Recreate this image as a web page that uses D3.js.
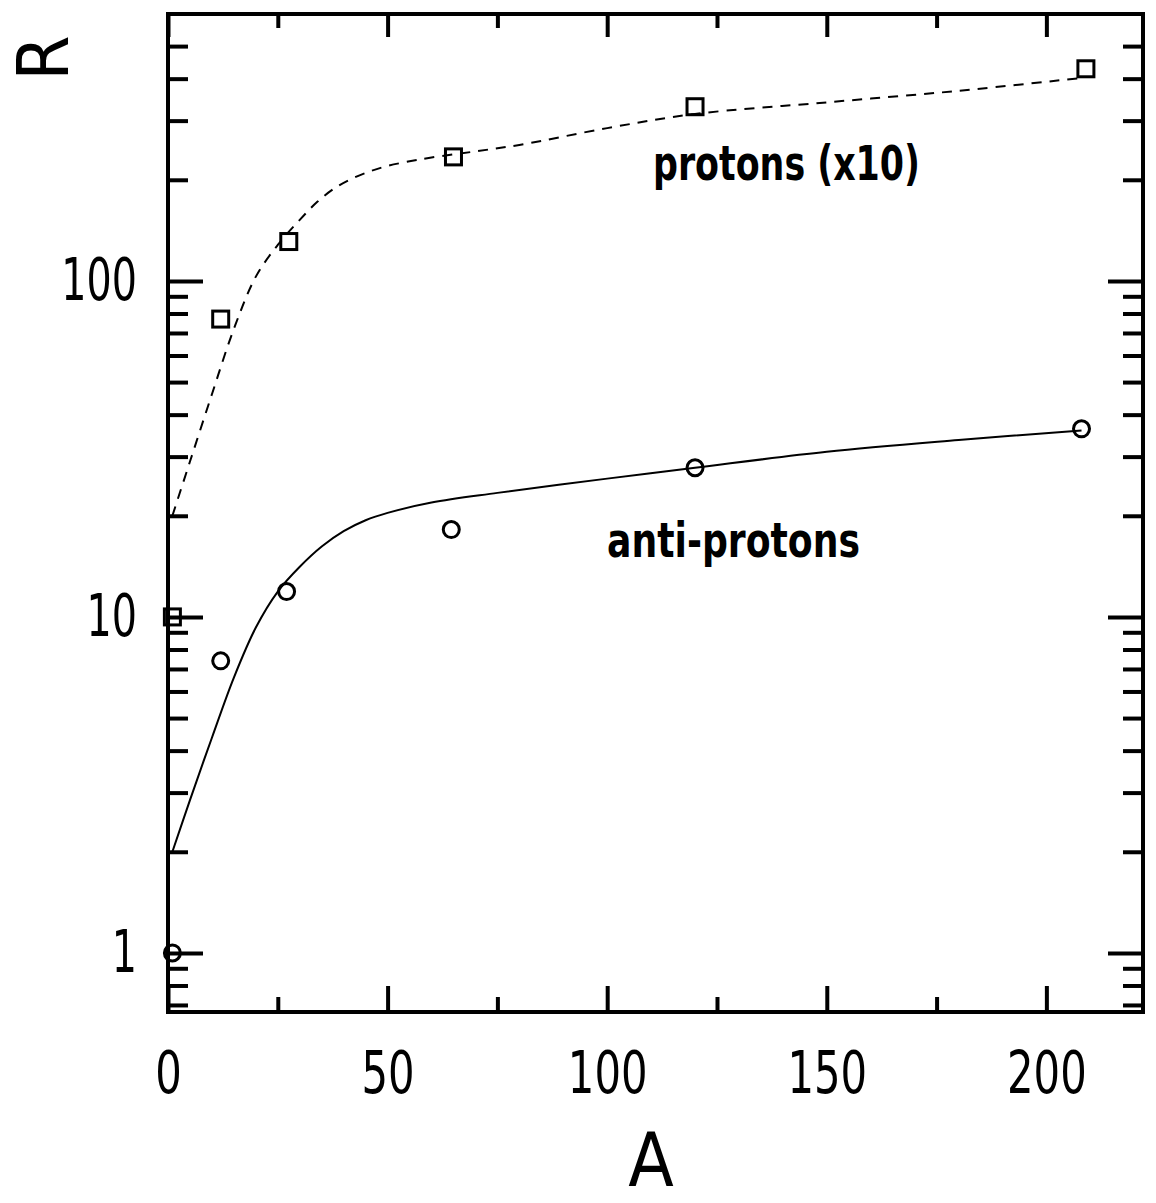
<!DOCTYPE html>
<html lang="en">
  <head>
    <meta charset="utf-8">
    <title>R vs A</title>
    <script src="https://d3js.org/d3.v7.min.js"></script>
    <style>
      body { margin: 0; background: #fff; }
      svg text { font-family: "DejaVu Sans Condensed", "DejaVu Sans", sans-serif; fill: #000; }
      .axis path.domain { display: none; }
      .axis line { stroke: #000; stroke-width: 4; }
      .ylab text { transform-box: fill-box; transform-origin: right center; transform: scaleX(0.76); }
      .xlab text { transform-box: fill-box; transform-origin: center; transform: scaleX(0.8); }
    </style>
  </head>
  <body>
    <script>
    var protonA = [1, 12, 27.5, 65, 120, 209];
    var protonR = [10, 77, 131, 234, 330, 428];
    var antiA = [1, 12, 27, 64.5, 120, 208];
    var antiR = [1, 7.4, 11.9, 18.2, 27.8, 36.3];

    // drawn curves
    var protonFitA = [1, 5, 10, 15, 20, 25, 30, 34, 38, 42, 46, 50, 55, 60, 70, 80, 100, 120, 150, 180, 208];
    var protonFitR = [20, 29, 46, 72, 103, 128, 152, 172, 189, 202, 212, 220, 227, 233, 243, 254, 285, 314, 340, 368, 402];
    var antiFitA = [1, 5, 10, 15, 20, 25, 30, 35, 40, 45, 50, 60, 75, 100, 120, 150, 180, 208];
    var antiFitR = [2.0, 2.85, 4.37, 6.6, 9.3, 11.9, 14.1, 16.2, 18.0, 19.4, 20.4, 21.9, 23.4, 25.8, 27.8, 31.0, 33.6, 35.9];

    // ticks
    var xMajor = [0, 50, 100, 150, 200];
    var xMinor = [25, 75, 125, 175];
    var yMajor = [1, 10, 100];
    var yLabels = ["1", "10", "100"];
    var yMinor = [0.7, 0.8, 0.9, 2, 3, 4, 5, 6, 7, 8, 9, 20, 30, 40, 50, 60, 70, 80, 90, 200, 300, 400, 500];

    var W = 1156, H = 1203;
    var L = 168, R = 1143, T = 14, B = 1012;

    var svg = d3.select("body").append("svg")
      .attr("width", W).attr("height", H);

    var x = d3.scaleLinear().domain([0, 222]).range([L, R]);
    var y = d3.scaleLog().domain([0.667, 623]).range([B, T]);

    // left axis
    svg.append("g").attr("class", "axis ylab").attr("transform", "translate(" + L + ",0)")
      .call(d3.axisLeft(y).tickValues(yMajor).tickSize(-35).tickPadding(31)
        .tickFormat(function(d, i) { return yLabels[i]; }))
      .selectAll("text").style("font-size", "58px");
    svg.append("g").attr("class", "axis").attr("transform", "translate(" + L + ",0)")
      .call(d3.axisLeft(y).tickValues(yMinor).tickSize(-20).tickFormat(""));

    // right axis
    svg.append("g").attr("class", "axis").attr("transform", "translate(" + R + ",0)")
      .call(d3.axisRight(y).tickValues(yMajor).tickSize(-35).tickFormat(""));
    svg.append("g").attr("class", "axis").attr("transform", "translate(" + R + ",0)")
      .call(d3.axisRight(y).tickValues(yMinor).tickSize(-20).tickFormat(""));

    // bottom axis
    svg.append("g").attr("class", "axis xlab").attr("transform", "translate(0," + B + ")")
      .call(d3.axisBottom(x).tickValues(xMajor).tickSize(-26).tickPadding(40))
      .selectAll("text").style("font-size", "58px");
    svg.append("g").attr("class", "axis").attr("transform", "translate(0," + B + ")")
      .call(d3.axisBottom(x).tickValues(xMinor).tickSize(-15).tickFormat(""));

    // top axis
    svg.append("g").attr("class", "axis").attr("transform", "translate(0," + T + ")")
      .call(d3.axisTop(x).tickValues(xMajor).tickSize(-23).tickFormat(""));
    svg.append("g").attr("class", "axis").attr("transform", "translate(0," + T + ")")
      .call(d3.axisTop(x).tickValues(xMinor).tickSize(-14).tickFormat(""));

    // frame
    svg.append("rect")
      .attr("x", L).attr("y", T).attr("width", R - L).attr("height", B - T)
      .attr("fill", "none").attr("stroke", "#000").attr("stroke-width", 4);

    var line = d3.line()
      .x(function(d) { return x(d[0]); })
      .y(function(d) { return y(d[1]); })
      .curve(d3.curveCatmullRom.alpha(0.5));

    svg.append("path")
      .attr("d", line(d3.zip(protonFitA, protonFitR)))
      .attr("fill", "none").attr("stroke", "#000").attr("stroke-width", 2)
      .attr("stroke-dasharray", "10,8");

    svg.append("path")
      .attr("d", line(d3.zip(antiFitA, antiFitR)))
      .attr("fill", "none").attr("stroke", "#000").attr("stroke-width", 2);

    // squares
    svg.selectAll("rect.p").data(d3.zip(protonA, protonR)).enter().append("rect")
      .attr("class", "p")
      .attr("x", function(d) { return x(d[0]) - 8; })
      .attr("y", function(d) { return y(d[1]) - 8; })
      .attr("width", 16).attr("height", 16)
      .attr("fill", "none").attr("stroke", "#000").attr("stroke-width", 3);

    // circles
    svg.selectAll("circle.a").data(d3.zip(antiA, antiR)).enter().append("circle")
      .attr("class", "a")
      .attr("cx", function(d) { return x(d[0]); })
      .attr("cy", function(d) { return y(d[1]); })
      .attr("r", 8)
      .attr("fill", "none").attr("stroke", "#000").attr("stroke-width", 3);

    // labels
    svg.append("text").attr("x", 653).attr("y", 180)
      .attr("textLength", 267).attr("lengthAdjust", "spacingAndGlyphs")
      .style("font-size", "48px").style("font-weight", "bold")
      .text("protons (x10)");
    svg.append("text").attr("x", 607).attr("y", 557)
      .attr("textLength", 253).attr("lengthAdjust", "spacingAndGlyphs")
      .style("font-size", "48px").style("font-weight", "bold")
      .text("anti-protons");

    svg.append("text").attr("x", 651).attr("y", 1186)
      .attr("text-anchor", "middle").style("font-size", "74px")
      .text("A");
    svg.append("text")
      .attr("transform", "translate(68,58) rotate(-90)")
      .attr("text-anchor", "middle").style("font-size", "72px")
      .text("R");
    </script>
  </body>
</html>
